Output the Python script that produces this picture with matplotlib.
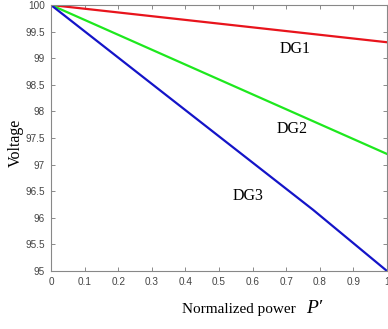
import matplotlib
matplotlib.use('Agg')
import matplotlib.pyplot as plt
import numpy as np

# normalized power vs voltage for each DG
p_dg1 = [0.0, 1.0]
v_dg1 = [100.0, 99.3]
p_dg2 = [0.0, 0.6, 1.0]
v_dg2 = [100.0, 98.32, 97.2]
p_dg3 = [0.0, 0.34, 0.78, 1.0]
v_dg3 = [100.0, 98.32, 96.15, 95.0]

xticks = [0, 0.1, 0.2, 0.3, 0.4, 0.5, 0.6, 0.7, 0.8, 0.9, 1]
yticks = [95, 95.5, 96, 96.5, 97, 97.5, 98, 98.5, 99, 99.5, 100]

fig = plt.figure(figsize=(3.88, 3.29), dpi=100)
ax = fig.add_axes([0.1314, 0.1763, 0.8660, 0.8085])

ax.plot(p_dg1, v_dg1, color="#e8141c", lw=1.6)
ax.plot(p_dg2, v_dg2, color="#1ee81e", lw=1.6)
ax.plot(p_dg3, v_dg3, color="#1414c8", lw=1.6)

ax.set_xlim(0, 1)
ax.set_ylim(95, 100)
ax.set_xticks(xticks)
ax.set_xticklabels([f"{t:g}" for t in xticks])
ax.set_yticks(yticks)
ax.set_yticklabels([f"{t:g}" for t in yticks])

ax.tick_params(direction="in", top=True, right=True, length=3, width=0.6,
               colors="#777777", labelcolor="#444444", labelsize=7.2, pad=4.5)
for t in ax.get_xticklabels() + ax.get_yticklabels():
    t.set_fontfamily("Liberation Sans")
for s in ax.spines.values():
    s.set_color("#888888")
    s.set_linewidth(0.8)

ax.text(0.726, 99.10, "DG1", fontsize=11.5, family="Liberation Serif", ha="center", va="baseline")
ax.text(0.717, 97.59, "DG2", fontsize=11.5, family="Liberation Serif", ha="center", va="baseline")
ax.text(0.586, 96.33, "DG3", fontsize=11.5, family="Liberation Serif", ha="center", va="baseline")

fig.text(0.041, 0.565, "Voltage", fontsize=11.5, family="Liberation Serif",
         rotation=90, ha="center", va="center")
fig.text(182 / 388, 1 - 313 / 329, "Normalized power", fontsize=11, family="Liberation Serif",
         ha="left", va="baseline")
fig.text(306 / 388, 1 - 313 / 329, "P\u2032", fontsize=14, family="Liberation Serif",
         style="italic", ha="left", va="baseline")

fig.savefig("out.png", dpi=100)
